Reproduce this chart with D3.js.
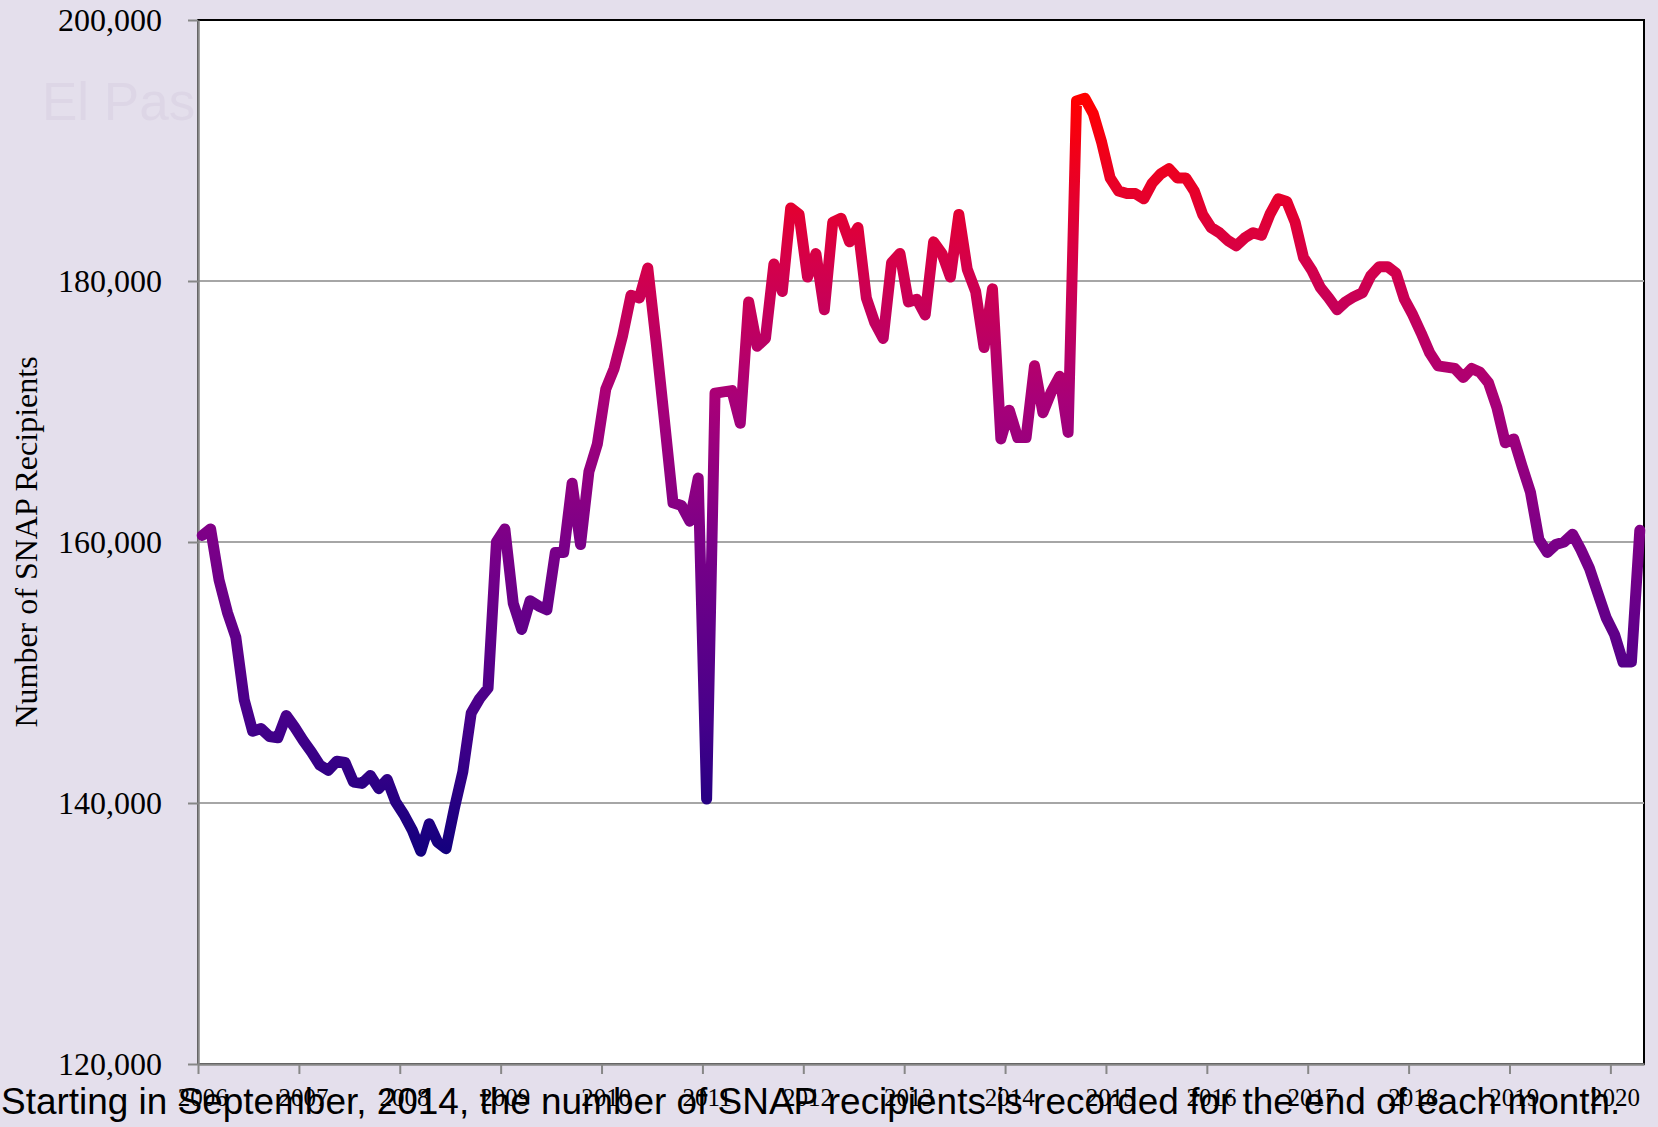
<!DOCTYPE html>
<html>
<head>
<meta charset="utf-8">
<script src="https://cdn.jsdelivr.net/npm/d3@7"></script>
<style>
  html, body { margin: 0; padding: 0; background: #e4dfec; }
  svg { display: block; }
</style>
</head>
<body>
<svg class="snap-ch"></svg>
<script>
"use strict";

// monthly SNAP recipients, Jan 2006 .. Apr 2020 (one category per month)
var yearLabels = ['2006','2007','2008','2009','2010','2011','2012','2013',
                  '2014','2015','2016','2017','2018','2019','2020'];
var yTicks = [120000, 140000, 160000, 180000, 200000];
var recipients = [
  160500,161000,157100,154600,152700,147900,145500,145700,145100,145000,146700,145800,
  144800,143900,142900,142500,143200,143100,141600,141500,142100,141100,141800,140100,
  139100,137900,136300,138400,137000,136500,139600,142400,146900,148000,148800,160000,
  161000,155300,153300,155500,155100,154800,159200,159200,164500,159800,165400,167500,
  171700,173300,175800,178900,178700,181000,175300,169200,163000,162800,161600,164900,
  140300,171400,171500,171600,169100,178400,175000,175600,181300,179200,185600,185100,
  180300,182100,177800,184500,184800,183000,184100,178700,176800,175600,181400,182100,
  178400,178600,177400,183000,182100,180300,185100,180900,179200,174900,179400,167900,
  170100,168000,168000,173500,169900,171500,172700,168400,193800,194000,192800,190600,
  187900,186900,186700,186700,186300,187500,188200,188600,187900,187900,186900,185100,
  184100,183700,183100,182700,183300,183700,183500,185100,186300,186100,184500,181800,
  180800,179500,178700,177800,178400,178800,179100,180400,181100,181100,180600,178600,
  177400,176000,174500,173500,173400,173300,172600,173300,173000,172200,170300,167600,
  167900,165800,163800,160200,159200,159800,160000,160600,159400,158000,156100,154200,
  152900,150800,150800,160900
];
var footnote = 'Starting in September, 2014, the number of SNAP recipients is recorded for the end of each month.';

var W = 1658, H = 1127;
var padL = 198, padR = 1644, padT = 20, padB = 1064;

var svg = d3.select('.snap-ch')
  .attr('width', W)
  .attr('height', H);

svg.append('rect')
  .attr('width', W).attr('height', H)
  .style('fill', '#e4dfec');

// faint watermark behind the plot area
svg.append('text')
  .attr('x', 42).attr('y', 120)
  .style('font-family', "'Liberation Sans', Arial, sans-serif")
  .style('font-size', '53px')
  .style('fill', '#ddd6e6')
  .text('El Paso');

// category axis: each month is a slot, the point sits mid-slot
var n = recipients.length;
var x = d3.scaleLinear()
  .domain([0, n])
  .range([padL, padR]);
var slot = x(1) - x(0);

var y = d3.scaleLinear()
  .domain([120000, 200000])
  .range([padB, padT]);

svg.append('rect')
  .attr('x', padL).attr('y', padT)
  .attr('width', padR - padL).attr('height', padB - padT)
  .style('fill', '#fff')
  .style('stroke', '#000')
  .style('stroke-width', 2);

// gridlines
svg.append('g').selectAll('line')
  .data(yTicks.filter(function(d){ return d > 120000 && d < 200000; }))
  .enter().append('line')
    .attr('x1', padL).attr('x2', padR)
    .attr('y1', function(d){ return y(d); })
    .attr('y2', function(d){ return y(d); })
    .style('stroke', '#a6a6a6')
    .style('stroke-width', 2);

var serif = "'Liberation Serif', 'Times New Roman', serif";

var yAxis = d3.axisLeft(y)
  .tickValues(yTicks)
  .tickFormat(d3.format(','))
  .tickSize(10)
  .tickSizeOuter(0)
  .tickPadding(26);

var gy = svg.append('g')
  .attr('transform', 'translate(' + padL + ',0)')
  .call(yAxis);

var xAxis = d3.axisBottom(x)
  .tickValues(d3.range(0, n, 12))
  .tickFormat(function(d){ return yearLabels[d / 12]; })
  .tickSize(10)
  .tickSizeOuter(0)
  .tickPadding(14);

var gx = svg.append('g')
  .attr('transform', 'translate(0,' + padB + ')')
  .call(xAxis);

// year labels sit in the middle of their January slot
gx.selectAll('.tick text').attr('x', slot / 2);

[gx, gy].forEach(function(g){
  g.select('.domain').style('stroke', '#878787').style('stroke-width', 2.5);
  g.selectAll('.tick line').style('stroke', '#878787').style('stroke-width', 2);
  g.selectAll('text').style('font-family', serif).style('fill', '#000');
});
gy.selectAll('text').style('font-size', '32px');
gx.selectAll('text').style('font-size', '25px');

svg.append('text')
  .attr('transform', 'translate(37,542) rotate(-90)')
  .attr('text-anchor', 'middle')
  .style('font-family', serif)
  .style('font-size', '32px')
  .style('fill', '#000')
  .text('Number of SNAP Recipients');

// colour follows the value: dark blue at the low, red at the high
var defs = svg.append('defs');
var grad = defs.append('linearGradient')
  .attr('id', 'snapGrad')
  .attr('gradientUnits', 'userSpaceOnUse')
  .attr('x1', 0).attr('x2', 0)
  .attr('y1', y(d3.min(recipients)))
  .attr('y2', y(d3.max(recipients)));
var stops = [[0, '#14007e'], [0.17, '#45008a'], [0.41, '#7b0088'], [0.6, '#a80078'], [0.78, '#d4004a'], [1, '#ff0000']];
grad.selectAll('stop')
  .data(stops)
  .enter().append('stop')
    .attr('offset', function(d){ return d[0]; })
    .attr('stop-color', function(d){ return d[1]; });

var line = d3.line()
  .x(function(d, i){ return x(i + 0.5); })
  .y(function(d){ return y(d); });

svg.append('path')
  .datum(recipients)
  .attr('d', line)
  .style('fill', 'none')
  .style('stroke', 'url(#snapGrad)')
  .style('stroke-width', 11)
  .style('stroke-linejoin', 'round')
  .style('stroke-linecap', 'round');

var note = svg.append('text')
  .attr('x', 1).attr('y', 1114)
  .style('font-family', "'Liberation Sans', Arial, sans-serif")
  .style('font-size', '37px')
  .style('fill', '#000')
  .text(footnote);
var len = note.node().getComputedTextLength();
note.style('font-size', (37 * 1620 / len) + 'px');
</script>
</body>
</html>
